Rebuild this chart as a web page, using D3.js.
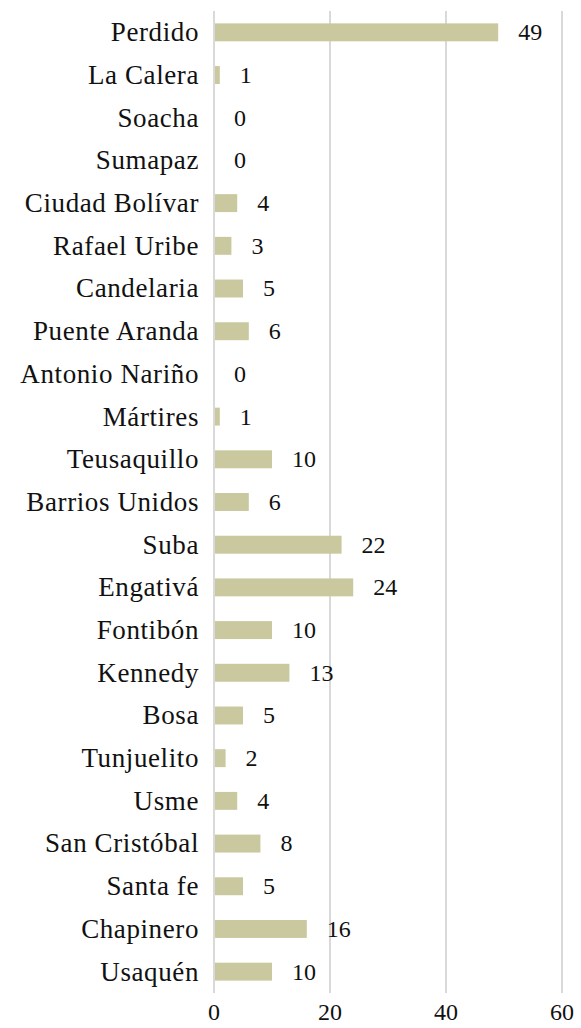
<!DOCTYPE html>
<html><head><meta charset="utf-8">
<script src="https://cdn.jsdelivr.net/npm/d3@7"></script>
</head><body style="margin:0;background:#fff"><svg id="c" width="581" height="1028" style="display:block"></svg>
<script>
const categories = ["Perdido","La Calera","Soacha","Sumapaz","Ciudad Bolívar","Rafael Uribe","Candelaria","Puente Aranda","Antonio Nariño","Mártires","Teusaquillo","Barrios Unidos","Suba","Engativá","Fontibón","Kennedy","Bosa","Tunjuelito","Usme","San Cristóbal","Santa fe","Chapinero","Usaquén"];
const values = [49,1,0,0,4,3,5,6,0,1,10,6,22,24,10,13,5,2,4,8,5,16,10];
const ticks = [0,20,40,60];

const FONT = '"Liberation Serif", "Times New Roman", serif';
const svg = d3.select("#c");
const x = d3.scaleLinear().domain([0,60]).range([214,562]);
const y = d3.scaleBand().domain(categories).range([11,993]).paddingInner(0.58).paddingOuter(0.29);

svg.selectAll("line.grid").data(ticks).join("line")
  .attr("x1",d=>x(d)).attr("x2",d=>x(d)).attr("y1",11).attr("y2",993)
  .attr("stroke","#d9d9d9").attr("stroke-width",2);

svg.selectAll("rect.bar").data(values).join("rect")
  .attr("x",x(0)+1).attr("y",(d,i)=>y(categories[i]))
  .attr("width",d=>Math.max(0,x(d)-x(0)-1)).attr("height",y.bandwidth())
  .attr("fill","#c9c89e");

svg.selectAll("text.val").data(values).join("text")
  .style("font-family",FONT).style("font-size","24px").attr("fill","#111")
  .attr("x",d=>x(d)+20).attr("y",(d,i)=>y(categories[i])+y.bandwidth()/2)
  .attr("dy","0.33em").text(d=>d);

svg.selectAll("text.cat").data(categories).join("text")
  .style("font-family",FONT).style("font-size","27px").style("letter-spacing","0.6px").attr("fill","#111")
  .attr("x",199).attr("y",d=>y(d)+y.bandwidth()/2).attr("dy","0.33em")
  .attr("text-anchor","end").text(d=>d);

svg.selectAll("text.tick").data(ticks).join("text")
  .style("font-family",FONT).style("font-size","24px").attr("fill","#111")
  .attr("x",d=>x(d)).attr("y",1020).attr("text-anchor","middle")
  .text(d=>d);
</script></body></html>
